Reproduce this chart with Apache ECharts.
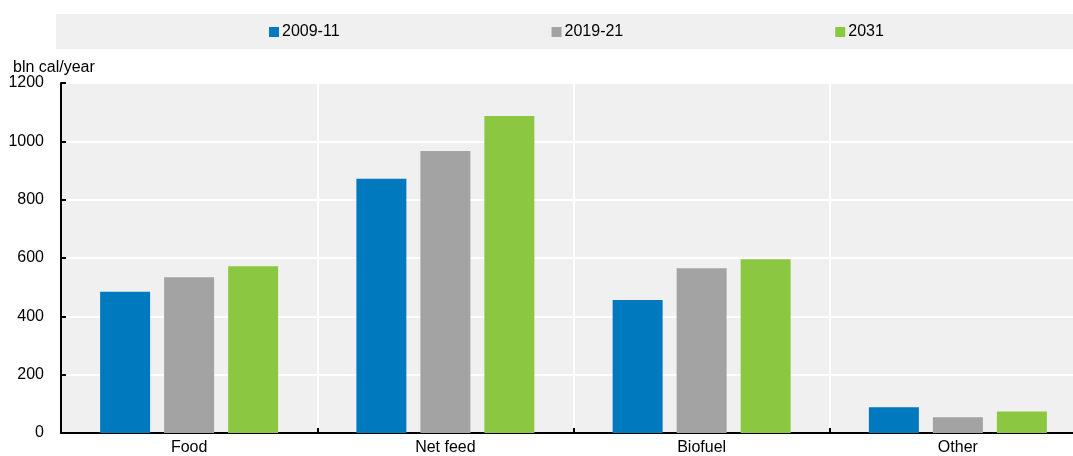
<!DOCTYPE html>
<html>
<head>
<meta charset="utf-8">
<script src="https://cdn.jsdelivr.net/npm/echarts@6/dist/echarts.min.js"></script>
<style>
html,body{margin:0;padding:0;background:#fff;overflow:hidden;width:1073px;height:456px;}
#chart{width:1086px;height:456px;}
</style>
</head>
<body>
<div id="chart"></div>
<script>
var categories = ['Food', 'Net feed', 'Biofuel', 'Other'];
var seriesNames = ['2009-11', '2019-21', '2031'];
var values2009 = [484, 872, 456, 88];
var values2019 = [534, 967, 565, 54];
var values2031 = [572, 1087, 596, 74];
var yTicks = [0, 200, 400, 600, 800, 1000, 1200];
var colors = ['#0179bf', '#a3a3a3', '#8cc742'];

var FONT = "'Liberation Sans', Arial, sans-serif";
var chart = echarts.init(document.getElementById('chart'), null, {renderer: 'canvas'});

var dataSets = [values2009, values2019, values2031];
var series = seriesNames.map(function (name, i) {
  return {
    name: name,
    type: 'bar',
    data: dataSets[i],
    barWidth: 50,
    barGap: '28%',
    itemStyle: {color: colors[i]},
    emphasis: {disabled: true}
  };
});

chart.setOption({
  animation: false,
  color: colors,
  graphic: [{
    type: 'rect',
    left: 56, top: 14,
    shape: {width: 1030, height: 35},
    style: {fill: '#f0f0f0'},
    z: -10
  }],
  legend: {
    left: 269,
    top: 24,
    padding: 0,
    itemWidth: 10,
    itemHeight: 10,
    itemGap: 212,
    icon: 'rect',
    textStyle: {fontFamily: FONT, fontSize: 16, color: '#000', padding: [0, 0, 0, -2]},
    data: seriesNames
  },
  grid: {
    left: 61,
    top: 83,
    right: 0,
    bottom: 21,
    show: true,
    backgroundColor: '#f0f0f0',
    borderWidth: 0,
    containLabel: false
  },
  xAxis: {
    type: 'category',
    data: categories,
    axisLine: {lineStyle: {color: '#000', width: 2}},
    axisTick: {show: true, inside: true, length: 5, lineStyle: {color: '#000', width: 2}},
    axisLabel: {fontFamily: FONT, fontSize: 16, color: '#000', margin: 7},
    splitLine: {show: true, lineStyle: {color: '#ffffff', width: 2}}
  },
  yAxis: {
    type: 'value',
    min: yTicks[0],
    max: yTicks[yTicks.length - 1],
    interval: 200,
    name: 'bln cal/year',
    nameLocation: 'end',
    nameGap: 7,
    nameTextStyle: {fontFamily: FONT, fontSize: 16, color: '#000', align: 'left', padding: [0, 0, 0, -48]},
    axisLine: {show: true, lineStyle: {color: '#000', width: 2}},
    axisTick: {show: true, inside: true, length: 5, lineStyle: {color: '#000', width: 2}},
    axisLabel: {fontFamily: FONT, fontSize: 16, color: '#000', margin: 17, formatter: function (v) { return String(v); }},
    splitLine: {show: true, lineStyle: {color: '#ffffff', width: 2}}
  },
  series: series
});
</script>
</body>
</html>
